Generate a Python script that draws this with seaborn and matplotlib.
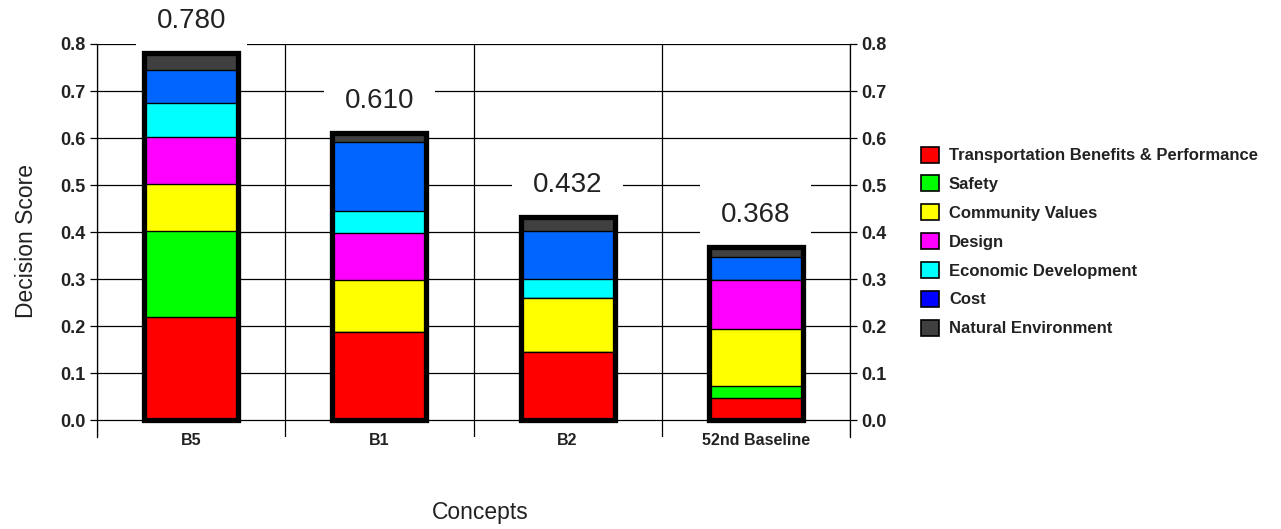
import matplotlib
matplotlib.use("Agg")
import matplotlib.pyplot as plt
from matplotlib.patches import Patch
import numpy as np
import pandas as pd
import seaborn as sns

# ---- data ----
categories = ["B5", "B1", "B2", "52nd Baseline"]
transport = [0.220, 0.188, 0.145, 0.048]
safety = [0.182, 0.000, 0.000, 0.025]
community = [0.100, 0.110, 0.114, 0.121]
design = [0.100, 0.101, 0.000, 0.104]
economic = [0.073, 0.046, 0.042, 0.000]
cost = [0.069, 0.146, 0.101, 0.049]
natural = [0.036, 0.019, 0.030, 0.021]
totals = [0.780, 0.610, 0.432, 0.368]
total_labels = ["0.780", "0.610", "0.432", "0.368"]

series_names = ["Transportation Benefits & Performance", "Safety", "Community Values",
                "Design", "Economic Development", "Cost", "Natural Environment"]
series_values = [transport, safety, community, design, economic, cost, natural]
bar_colors = ["#FF0000", "#00FF00", "#FFFF00", "#FF00FF", "#00FFFF", "#0066FF", "#404040"]
legend_colors = ["#FF0000", "#00FF00", "#FFFF00", "#FF00FF", "#00FFFF", "#0000FF", "#404040"]

y_ticks = [0.0, 0.1, 0.2, 0.3, 0.4, 0.5, 0.6, 0.7, 0.8]

sns.set_theme(style="white")
plt.rcParams['font.family'] = ['Liberation Sans', 'DejaVu Sans']

fig = plt.figure(figsize=(12.81, 5.29), dpi=100)
ax = fig.add_axes([97/1281, 1 - 437/529, (850 - 97)/1281, (437 - 44)/529])

df = pd.DataFrame({"Concept": categories})
cum = np.zeros(len(categories))
cums = []
for vals in series_values:
    cum = cum + np.array(vals)
    cums.append(cum.copy())

# draw cumulative bars from top to bottom so lower segments cover upper ones
for name, c, color in reversed(list(zip(series_names, cums, bar_colors))):
    d = df.copy()
    d["Score"] = c
    sns.barplot(data=d, x="Concept", y="Score", color=color, width=0.5,
                edgecolor="black", linewidth=1.0, errorbar=None, ax=ax,
                saturation=1, zorder=3)

# thick outline around each stack
d = df.copy()
d["Score"] = totals
sns.barplot(data=d, x="Concept", y="Score", fill=False, width=0.5,
            edgecolor="black", linewidth=3.8, errorbar=None, ax=ax, zorder=4)

# total labels
for i, (t, lab) in enumerate(zip(totals, total_labels)):
    ax.text(i, t + 0.069, lab, ha="center", va="center", fontsize=20,
            color="#222222", zorder=2,
            bbox=dict(boxstyle="square,pad=0.75", facecolor="white", edgecolor="none"))

ax.set_xlim(-0.5, 3.5)
ax.set_ylim(-0.036, 0.8)
ax.set_yticks(y_ticks)
ax.set_yticklabels([f"{v:.1f}" for v in y_ticks])
ax.set_xticks(range(len(categories)))
ax.set_xticklabels(categories, fontsize=11.5, fontweight="bold", color="#222222")
ax.set_xticks([-0.5, 0.5, 1.5, 2.5, 3.5], minor=True)

ax.grid(False)
ax.grid(axis="y", which="major", color="black", linewidth=0.9, zorder=1)
ax.grid(axis="x", which="minor", color="black", linewidth=0.9, zorder=1)
ax.set_axisbelow(True)

for s in ["top", "bottom"]:
    ax.spines[s].set_visible(False)
for s in ["left", "right"]:
    ax.spines[s].set_visible(True)
    ax.spines[s].set_color("black")
    ax.spines[s].set_linewidth(0.9)

ax.tick_params(axis="y", which="major", left=True, right=True, labelleft=True,
               labelright=True, direction="out", length=5, width=0.9, color="black",
               labelsize=13, pad=3)
for lab in ax.get_yticklabels():
    lab.set_fontweight("bold")
    lab.set_color("#222222")
ax.tick_params(axis="x", which="both", bottom=False, length=0, pad=-3)

ax.set_ylabel("Decision Score", fontsize=16.5, color="#222222", labelpad=16)
ax.set_xlabel("")
fig.text(480/1281, 1 - 512/529, "Concepts", ha="center", va="center",
         fontsize=16.5, color="#222222")

handles = [Patch(facecolor=c, edgecolor="black", linewidth=1.2) for c in legend_colors]
leg = fig.legend(handles, series_names, loc="upper left",
                 bbox_to_anchor=(914/1281, 1 - 140/529), frameon=False,
                 fontsize=12, handlelength=1.1, handleheight=1.1,
                 handletextpad=0.6, labelspacing=0.73, borderaxespad=0)
for t in leg.get_texts():
    t.set_fontweight("bold")
    t.set_color("#222222")

fig.savefig("out.png", dpi=100)
